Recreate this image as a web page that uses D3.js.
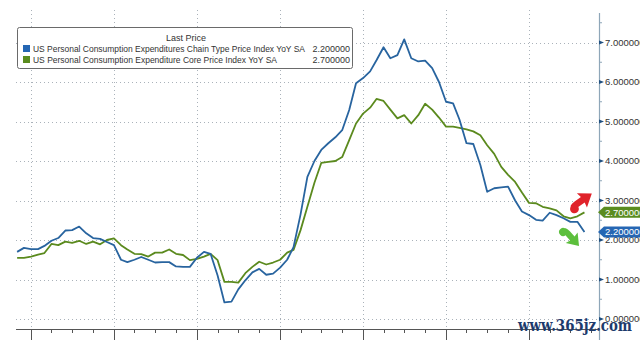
<!DOCTYPE html>
<html>
<head>
<meta charset="utf-8">
<script src="https://cdn.jsdelivr.net/npm/d3@7"></script>
<style>
  html, body { margin: 0; padding: 0; background: #ffffff; }
  svg { display: block; }
</style>
</head>
<body>
<svg id="chart" width="640" height="340"></svg>
<script>
// ---------------- data ----------------
const months = [
  "2017-10","2017-11","2017-12",
  "2018-01","2018-02","2018-03","2018-04","2018-05","2018-06","2018-07","2018-08","2018-09","2018-10","2018-11","2018-12",
  "2019-01","2019-02","2019-03","2019-04","2019-05","2019-06","2019-07","2019-08","2019-09","2019-10","2019-11","2019-12",
  "2020-01","2020-02","2020-03","2020-04","2020-05","2020-06","2020-07","2020-08","2020-09","2020-10","2020-11","2020-12",
  "2021-01","2021-02","2021-03","2021-04","2021-05","2021-06","2021-07","2021-08","2021-09","2021-10","2021-11","2021-12",
  "2022-01","2022-02","2022-03","2022-04","2022-05","2022-06","2022-07","2022-08","2022-09","2022-10","2022-11","2022-12",
  "2023-01","2023-02","2023-03","2023-04","2023-05","2023-06","2023-07","2023-08","2023-09","2023-10","2023-11","2023-12",
  "2024-01","2024-02","2024-03","2024-04","2024-05","2024-06","2024-07","2024-08"
];
const pceHeadline = [
  1.70,1.80,1.77,
  1.77,1.85,1.98,2.05,2.24,2.25,2.34,2.17,2.05,2.03,1.95,1.87,
  1.50,1.44,1.50,1.57,1.50,1.43,1.44,1.44,1.33,1.32,1.32,1.55,
  1.70,1.65,1.10,0.42,0.44,0.75,0.98,1.18,1.27,1.12,1.15,1.30,
  1.50,1.82,2.65,3.60,4.00,4.28,4.45,4.60,4.78,5.29,5.97,6.10,
  6.27,6.55,6.88,6.60,6.68,7.08,6.60,6.52,6.54,6.35,6.00,5.50,
  5.46,5.05,4.45,4.43,3.90,3.22,3.31,3.33,3.35,3.00,2.72,2.63,
  2.51,2.49,2.69,2.63,2.55,2.46,2.46,2.20
];
const pceCore = [
  1.55,1.55,1.58,
  1.63,1.67,1.90,1.87,1.96,1.93,1.98,1.90,1.96,1.89,2.00,2.04,
  1.87,1.76,1.65,1.64,1.58,1.68,1.68,1.76,1.65,1.62,1.49,1.52,
  1.58,1.65,1.49,0.94,0.94,0.92,1.16,1.32,1.45,1.38,1.43,1.50,
  1.68,1.75,2.25,2.84,3.45,3.95,3.98,4.00,4.10,4.53,4.95,5.20,
  5.35,5.57,5.52,5.30,5.08,5.16,4.95,5.16,5.45,5.30,5.10,4.87,
  4.87,4.84,4.80,4.75,4.65,4.40,4.18,3.85,3.65,3.47,3.20,2.94,
  2.93,2.84,2.80,2.75,2.60,2.55,2.60,2.70
];
const seriesNames = [
  "US Personal Consumption Expenditures Chain Type Price Index YoY SA",
  "US Personal Consumption Expenditure Core Price Index YoY SA"
];
const lastValues = [2.2, 2.7];
const legendTitle = "Last Price";
const yTicks = [0, 1, 2, 3, 4, 5, 6, 7];
const yMinorTicks = [0.5, 1.5, 2.5, 3.5, 4.5, 5.5, 6.5, 7.5];
const xYears = ["2018-01-01","2019-01-01","2020-01-01","2021-01-01","2022-01-01","2023-01-01","2024-01-01"];
const watermark = "www.365jz.com";

// ---------------- styles ----------------
const blue = "#28649f";
const green = "#5b8a1e";
const blueBox = "#2566b3";
const greenBox = "#5a8c1f";
const font = "'Liberation Sans', Arial, sans-serif";

const svg = d3.select("#chart");
const pLeft = 16, pRight = 599, pTop = 10, pBottom = 329;

const parseM = d3.timeParse("%Y-%m");
// monthly points plotted at month end (start of following month)
const dates = months.map(m => d3.timeMonth.offset(parseM(m), 1));

const x = d3.scaleTime()
  .domain([new Date(2017, 9, 27), new Date(2024, 10, 4)])
  .range([pLeft, pRight]);
const y = d3.scaleLinear().domain([0, 7]).range([319, 42.5]);

// background
svg.append("rect").attr("width", 640).attr("height", 340).attr("fill", "#ffffff");

// horizontal grid
svg.append("g").selectAll("line").data(yTicks).join("line")
  .attr("x1", pLeft).attr("x2", pRight)
  .attr("y1", d => Math.round(y(d)) + 0.5).attr("y2", d => Math.round(y(d)) + 0.5)
  .attr("stroke", "#aab2ba").attr("stroke-width", 1)
  .attr("stroke-dasharray", "1,3");

// vertical grid
const yearDates = xYears.map(d => new Date(d + "T00:00:00"));
svg.append("g").selectAll("line").data(yearDates).join("line")
  .attr("x1", d => Math.round(x(d)) + 0.5).attr("x2", d => Math.round(x(d)) + 0.5)
  .attr("y1", pTop).attr("y2", pBottom)
  .attr("stroke", "#aab2ba").attr("stroke-width", 1)
  .attr("stroke-dasharray", "1,3");

// bottom axis
const quarters = d3.timeMonth.every(3).range(new Date(2017, 9, 27), new Date(2024, 10, 4));
svg.append("line").attr("x1", pLeft).attr("x2", pRight).attr("y1", pBottom + 0.5).attr("y2", pBottom + 0.5)
  .attr("stroke", "#555").attr("stroke-width", 1);
svg.append("g").selectAll("line").data(quarters).join("line")
  .attr("x1", d => Math.round(x(d)) + 0.5).attr("x2", d => Math.round(x(d)) + 0.5)
  .attr("y1", pBottom).attr("y2", d => d.getMonth() === 0 ? 340 : pBottom + 4)
  .attr("stroke", "#555").attr("stroke-width", 1);

// series lines
const line = d3.line().x((d, i) => x(dates[i])).y(d => y(d)).curve(d3.curveLinear);
svg.append("path").datum(pceCore).attr("d", line)
  .attr("fill", "none").attr("stroke", green).attr("stroke-width", 1.8).attr("stroke-linejoin", "round");
svg.append("path").datum(pceHeadline).attr("d", line)
  .attr("fill", "none").attr("stroke", blue).attr("stroke-width", 1.8).attr("stroke-linejoin", "round");

// right axis
const axisG = svg.append("g").attr("transform", `translate(${pRight},0)`);
axisG.append("line").attr("x1", 0.5).attr("x2", 0.5).attr("y1", 13).attr("y2", 340)
  .attr("stroke", "#8ea6b8").attr("stroke-width", 1.2);
axisG.selectAll(".minor").data(yMinorTicks).join("line")
  .attr("x1", 0).attr("x2", 3).attr("y1", d => y(d)).attr("y2", d => y(d))
  .attr("stroke", "#8ea6b8");
axisG.selectAll(".tri").data(yTicks).join("path")
  .attr("d", d => `M0,${y(d) - 2}L5,${y(d)}L0,${y(d) + 2}Z`)
  .attr("fill", "#1f4f80");
axisG.selectAll("text").data(yTicks).join("text")
  .attr("x", 6).attr("y", d => y(d) + 3.2)
  .attr("font-family", font).attr("font-size", 9.5).attr("fill", "#333")
  .text(d => d3.format(".6f")(d));

// last value labels
const labelData = [
  { v: lastValues[1], c: greenBox },
  { v: lastValues[0], c: blueBox }
];
const lg = svg.append("g");
labelData.forEach(d => {
  const cy = y(d.v);
  lg.append("path")
    .attr("d", `M${pRight - 1},${cy}L${pRight + 5},${cy - 5.5}L640,${cy - 5.5}L640,${cy + 5.5}L${pRight + 5},${cy + 5.5}Z`)
    .attr("fill", d.c);
  lg.append("text").attr("x", pRight + 6).attr("y", cy + 3.3)
    .attr("font-family", font).attr("font-size", 9.5).attr("fill", "#ffffff")
    .text(d3.format(".6f")(d.v));
});

// decorative arrows
function arrow(cx, cy, angle, scale, color) {
  const g = svg.append("g").attr("transform", `translate(${cx},${cy}) rotate(${angle}) scale(${scale})`);
  g.append("path")
    .attr("d", "M1,-8 L12,0 L1,8 L2,3 L-6,3 Q-9,3 -10,6 Q-13,2 -10,-2 Q-8,-3 -5,-3 L2,-3 Z")
    .attr("fill", color);
  g.append("circle").attr("cx", -9).attr("cy", 2.5).attr("r", 4).attr("fill", color);
}
arrow(581, 201, -35, 1.1, "#e0222a");
arrow(571, 237, 48, 1.0, "#5cbf3c");

// legend
const leg = svg.append("g");
leg.append("rect").attr("x", 17.5).attr("y", 27.5).attr("width", 335).attr("height", 41)
  .attr("rx", 2).attr("fill", "#ffffff").attr("stroke", "#6a6a6a").attr("stroke-width", 1);
leg.append("text").attr("x", 186).attr("y", 41).attr("text-anchor", "middle")
  .attr("font-family", font).attr("font-size", 9).attr("fill", "#333").text(legendTitle);
const legColors = [blueBox, greenBox];
const rowWidths = [272, 244];
seriesNames.forEach((name, i) => {
  const by = 52 + i * 11;
  leg.append("rect").attr("x", 23).attr("y", by - 7).attr("width", 7).attr("height", 7).attr("fill", legColors[i]);
  leg.append("text").attr("x", 33).attr("y", by)
    .attr("font-family", font).attr("font-size", 9).attr("fill", "#333")
    .attr("textLength", rowWidths[i]).attr("lengthAdjust", "spacingAndGlyphs")
    .text(name);
  leg.append("text").attr("x", 350).attr("y", by).attr("text-anchor", "end")
    .attr("font-family", font).attr("font-size", 9).attr("fill", "#333")
    .text(d3.format(".6f")(lastValues[i]));
});

// watermark
svg.append("text").attr("x", 518).attr("y", 331)
  .attr("font-family", "'DejaVu Serif', serif").attr("font-weight", "bold").attr("font-size", 16)
  .attr("fill", "#1d3a6c").attr("textLength", 114).attr("lengthAdjust", "spacingAndGlyphs")
  .text(watermark);
</script>
</body>
</html>
